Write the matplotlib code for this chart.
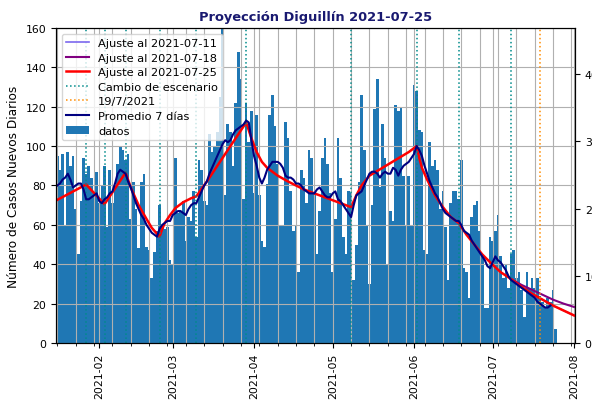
import matplotlib
matplotlib.use('Agg')
import matplotlib.pyplot as plt
import matplotlib.dates as mdates
import pandas as pd

# ---------------- data ----------------
bar_start = '2021-01-15'
casos = [
    80, 95, 88, 96, 60, 97, 90, 95, 68, 45,
    72, 94, 86, 90, 84, 77, 87, 71, 80, 90,
    59, 88, 71, 80, 91, 100, 98, 93, 96, 63,
    82, 68, 48, 82, 86, 49, 47, 33, 46, 57,
    70, 59, 58, 59, 42, 40, 94, 66, 67, 72,
    52, 64, 62, 77, 54, 93, 88, 72, 70, 106,
    97, 100, 107, 125, 165, 75, 111, 107, 90, 122,
    148, 134, 73, 122, 102, 118, 76, 116, 75, 52,
    49, 81, 116, 126, 110, 91, 60, 60, 112, 104,
    77, 57, 60, 36, 88, 84, 71, 98, 94, 76,
    45, 67, 94, 104, 91, 76, 36, 63, 104, 84,
    54, 45, 77, 76, 32, 50, 82, 126, 98, 60,
    30, 70, 119, 134, 79, 111, 94, 40, 67, 62,
    121, 118, 120, 85, 60, 85, 60, 131, 128, 108,
    107, 47, 45, 102, 90, 93, 88, 68, 77, 59,
    32, 71, 77, 77, 73, 93, 38, 36, 23, 64,
    70, 72, 57, 44, 18, 18, 54, 52, 57, 65,
    44, 33, 40, 28, 45, 47, 33, 36, 27, 13,
    36, 28, 33, 28, 33, 24, 21, 18, 23, 21,
    27, 7,
]

avg_start = '2021-01-15'
promedio = [
    79, 80, 81, 83, 84, 86, 83, 79, 80, 81,
    81, 78, 73, 73, 74, 75, 76, 72, 71, 73,
    74, 76, 77, 81, 86, 88, 87, 86, 82, 79,
    75, 71, 68, 65, 63, 60, 58, 56, 55, 54,
    58, 60, 61, 62, 62, 65, 66, 67, 67, 66,
    65, 68, 70, 71, 71, 74, 77, 80, 82, 86,
    89, 92, 95, 98, 101, 103, 102, 103, 106, 108,
    109, 110, 111, 113, 112, 103, 95, 90, 84, 81,
    84, 88, 90, 92, 92, 92, 91, 89, 85, 84,
    84, 83, 81, 81, 80, 78, 77, 76, 76, 76,
    78, 79, 77, 75, 74, 74, 76, 77, 73, 72,
    70, 68, 66, 64, 70, 75, 76, 77, 80, 83,
    86, 87, 87, 86, 84, 86, 87, 86, 86, 89,
    88, 85, 88, 90, 91, 92, 94, 96, 100, 98,
    95, 90, 86, 82, 79, 76, 74, 71, 68, 66,
    65, 64, 63, 62, 62, 60, 57, 56, 55, 52,
    50, 48, 46, 44, 42, 39, 38, 41, 44, 42,
    41, 39, 37, 34, 32, 31, 30, 29, 28, 27,
    26, 25, 24, 23, 21, 20, 19, 18, 18, 19,
]

ajuste_0725_fechas = [
    '2021-01-15', '2021-01-27', '2021-02-03', '2021-02-11', '2021-02-13',
    '2021-02-16', '2021-02-19', '2021-02-21', '2021-02-24', '2021-02-25',
    '2021-02-26', '2021-02-28', '2021-03-02', '2021-03-05', '2021-03-08',
    '2021-03-10', '2021-03-14', '2021-03-18', '2021-03-22', '2021-03-26',
    '2021-03-29', '2021-03-31', '2021-04-02', '2021-04-04', '2021-04-06',
    '2021-04-10', '2021-04-14', '2021-04-20', '2021-04-26', '2021-05-02',
    '2021-05-08', '2021-05-10', '2021-05-12', '2021-05-15', '2021-05-20',
    '2021-05-25', '2021-05-30', '2021-06-02', '2021-06-03', '2021-06-04',
    '2021-06-06', '2021-06-09', '2021-06-12', '2021-06-15', '2021-06-18',
    '2021-06-21', '2021-06-24', '2021-06-27', '2021-06-30', '2021-07-04',
    '2021-07-08', '2021-07-12', '2021-07-16', '2021-07-20', '2021-07-24',
    '2021-07-28', '2021-08-01',
]
ajuste_0725_valores = [
    72, 80.5, 70.5, 86.5, 79,
    70, 63, 58.5, 54, 58,
    61, 65, 68.5, 71.5, 73.5,
    74.5, 82, 90, 98, 106,
    112, 104, 97, 92, 89,
    85, 82, 78, 75, 72,
    69, 75, 80, 85, 89,
    93, 97, 100, 94, 89,
    83, 75, 69, 64, 61,
    55, 50, 45, 41, 36,
    32.5, 28.5, 25, 22, 19,
    16.5, 14,
]

ajuste_0718_fechas = ['2021-07-08', '2021-07-12', '2021-07-16', '2021-07-20',
                      '2021-07-24', '2021-07-28', '2021-08-01']
ajuste_0718_valores = [32.5, 29.5, 27, 24.5, 22, 20, 18.3]

ajuste_0711_fechas = ['2021-07-08', '2021-07-12', '2021-07-16', '2021-07-20',
                      '2021-07-24', '2021-07-28', '2021-08-01']
ajuste_0711_valores = [32.5, 28.5, 25, 22, 19, 16.5, 14]

cambios_escenario = ['2021-01-27', '2021-02-03', '2021-02-11', '2021-02-24',
                     '2021-03-10', '2021-03-29', '2021-05-08', '2021-06-02',
                     '2021-06-18', '2021-07-08']
fecha_ref = '2021-07-19'

titulo = 'Proyección Diguillín 2021-07-25'
ylabel = 'Número de Casos Nuevos Diarios'

# ---------------- plot ----------------
fechas_casos = pd.date_range(bar_start, periods=len(casos), freq='D')
fechas_prom = pd.date_range(avg_start, periods=len(promedio), freq='D')

fig = plt.figure(figsize=(5.92, 4.02), dpi=100)
ax = fig.add_axes([0.0946, 0.1443, 0.8767, 0.7836])

ax.plot(pd.to_datetime(ajuste_0711_fechas), ajuste_0711_valores,
        color='mediumslateblue', lw=1.2, label='Ajuste al 2021-07-11')
ax.plot(pd.to_datetime(ajuste_0718_fechas), ajuste_0718_valores,
        color='purple', lw=1.5, label='Ajuste al 2021-07-18')
ax.plot(pd.to_datetime(ajuste_0725_fechas), ajuste_0725_valores,
        color='red', lw=1.8, label='Ajuste al 2021-07-25')
for i, f in enumerate(cambios_escenario):
    ax.axvline(pd.Timestamp(f), color='darkcyan', ls=':', lw=1.1,
               label='Cambio de escenario' if i == 0 else None)
ax.axvline(pd.Timestamp(fecha_ref), color='darkorange', ls=':', lw=1.1,
           label='19/7/2021')
ax.plot(fechas_prom, promedio, color='navy', lw=1.5, label='Promedio 7 días')
ax.bar(fechas_casos, casos, width=1.0, color='#1f77b4', label='datos')

ax.set_xlim(pd.Timestamp('2021-01-15 12:00'), pd.Timestamp('2021-08-01 09:00'))
ax.set_ylim(0, 160)
ax.xaxis.set_major_locator(mdates.MonthLocator())
ax.xaxis.set_major_formatter(mdates.DateFormatter('%Y-%m'))
ax.xaxis.set_minor_locator(mdates.WeekdayLocator(byweekday=mdates.SA))
ax.grid(True, which='both')
ax.tick_params(axis='x', labelrotation=90, labelsize=7.8)
ax.tick_params(axis='y', labelsize=7.8)
ax.set_ylabel(ylabel, fontsize=8.7)
ax.set_title(titulo, fontsize=9.4, fontweight='bold', color='midnightblue')
ax.legend(loc='upper left', fontsize=8.2, labelspacing=0.4)

ax2 = ax.twinx()
ax2.set_ylim(0, 46.9)
ax2.set_yticks([0, 10, 20, 30, 40])
ax2.tick_params(axis='y', labelsize=7.8)

fig.savefig('out.png', dpi=100)
